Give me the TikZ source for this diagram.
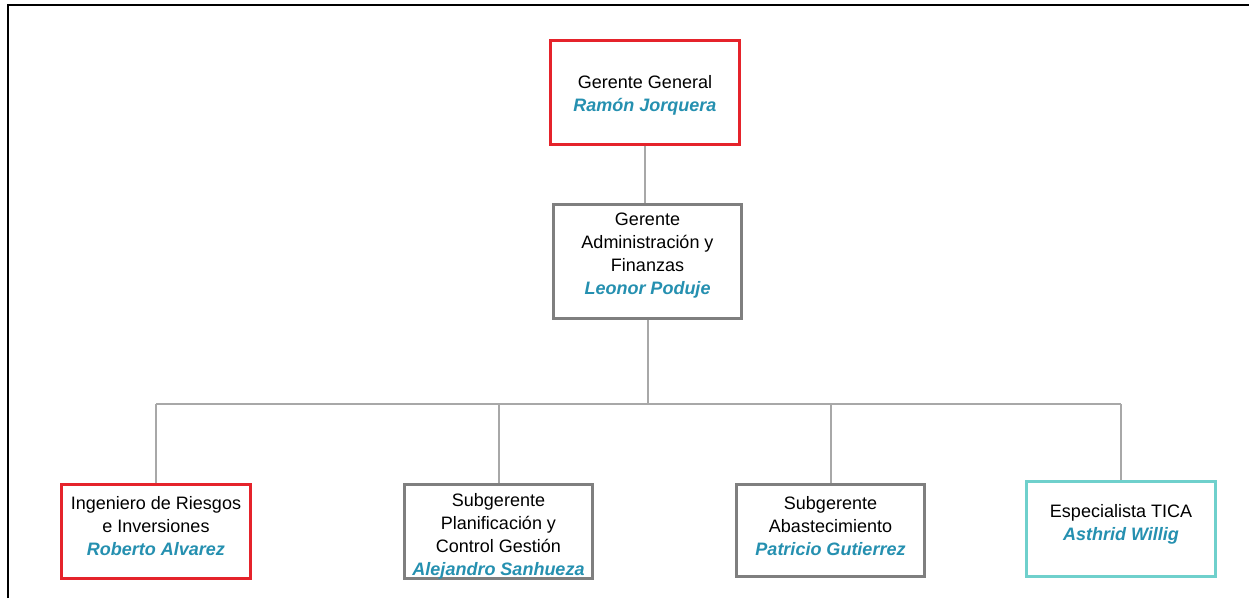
\documentclass[tikz,border=0pt]{standalone}
\usepackage{fontspec}
\setmainfont{Liberation Sans}
\definecolor{bred}{HTML}{E5232B}
\definecolor{bgray}{HTML}{7F7F7F}
\definecolor{lgray}{HTML}{A8A8A8}
\definecolor{bteal}{HTML}{6FD0CC}
\definecolor{nameblue}{HTML}{2590B0}
\newcommand{\pname}[1]{\textcolor{nameblue}{\bfseries\itshape #1}}
\begin{document}
\begin{tikzpicture}[x=1pt,y=-1pt,
  box/.style={draw, line width=2.6pt, fill=white, inner sep=0pt},
  redbox/.style={box, draw=bred},
  graybox/.style={box, draw=bgray},
  tealbox/.style={box, draw=bteal},
  txt/.style={align=center, inner sep=0pt, font=\fontsize{18}{23}\selectfont, text=black},
  conn/.style={draw=lgray, line width=2pt},
  frame/.style={draw=black, line width=2.4pt}]
\useasboundingbox (0,0) rectangle (1249,598);
\fill[white] (0,0) rectangle (1249,598);
\draw[frame] (8,598) -- (8,5) -- (1249,5);

\node[redbox, minimum width=189pt, minimum height=104pt] (gg) at (645,92.5) {};
\node[graybox, minimum width=188pt, minimum height=114pt] (gaf) at (647.5,261.5) {};
\node[redbox, minimum width=189pt, minimum height=94pt] (b1) at (156,531.5) {};
\node[graybox, minimum width=188pt, minimum height=94pt] (b2) at (498.5,531.5) {};
\node[graybox, minimum width=188pt, minimum height=92pt] (b3) at (830.5,530.5) {};
\node[tealbox, minimum width=189pt, minimum height=95pt] (b4) at (1121,529) {};

\node[txt] (tgg) at ([yshift=-3pt]gg.center) {Gerente General\\\pname{Ramón Jorquera}};
\node[txt] (tgaf) at ([yshift=5.5pt]gaf.center) {Gerente\\Administración y\\Finanzas\\\pname{Leonor Poduje}};
\node[txt] (tb1) at ([yshift=5pt]b1.center) {Ingeniero de Riesgos\\e Inversiones\\\pname{Roberto Alvarez}};
\node[txt] (tb2) at ([yshift=-5pt]b2.center) {Subgerente\\Planificación y\\Control Gestión\\\pname{Alejandro Sanhueza}};
\node[txt] (tb3) at ([yshift=4.5pt]b3.center) {Subgerente\\Abastecimiento\\\pname{Patricio Gutierrez}};
\node[txt] (tb4) at ([yshift=5pt]b4.center) {Especialista TICA\\\pname{Asthrid Willig}};

\coordinate (bus) at (0,404);
\draw[conn] (gg.south) -- (gg.south |- gaf.north);
\draw[conn] (gaf.south) -- (gaf.south |- bus);
\draw[conn] (b1.north |- bus) -- (b4.north |- bus);
\foreach \b in {b1,b2,b3,b4} {
  \draw[conn] (\b.north |- bus) -- (\b.north);
}
\end{tikzpicture}
\end{document}
